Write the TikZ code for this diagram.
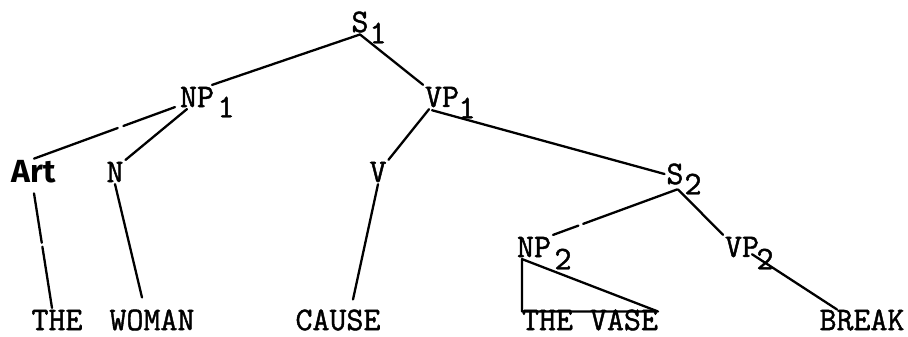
\documentclass[tikz,border=0pt]{standalone}
\usepackage{fontspec}
\newfontfamily\handfont{Fira Sans}
\newfontfamily\typew{Latin Modern Mono}[FakeBold=1.3]
\begin{document}
\begin{tikzpicture}[x=1pt,y=-1pt,
  lab/.style={font=\fontsize{33}{36}\selectfont\typew, inner sep=0pt, outer sep=2pt},
  hand/.style={font=\fontsize{32}{35}\selectfont\handfont\bfseries, inner sep=0pt, outer sep=2pt},
  edge/.style={line width=2.3pt, line cap=round}]
\useasboundingbox (0,0) rectangle (908,337);
% labels
\node[lab] (s1) at (360,22) {S};
\node[lab] (s1sub) at (378,33) {1};
\node[lab] (np1) at (197,97) {NP};
\node[lab] (np1sub) at (226,107) {1};
\node[lab] (vp1) at (442,97) {VP};
\node[lab] (vp1sub) at (467,108) {1};
\node[hand] (art) at (34,172) {Art};
\node[lab] (n) at (115,172) {N};
\node[lab] (v) at (378,172) {V};
\node[lab] (s2) at (675,174) {S};
\node[lab] (s2sub) at (693,184) {2};
\node[lab] (np2) at (534,247) {NP};
\node[lab] (np2sub) at (563,259) {2};
\node[lab] (vp2) at (742,247) {VP};
\node[lab] (vp2sub) at (765,259) {2};
\node[lab] (the) at (57,320) {THE};
\node[lab] (woman) at (152,320) {WOMAN};
\node[lab] (cause) at (338,320) {CAUSE};
\node[lab, outer sep=0pt] (vase) at (590,320) {THE VASE};
\node[lab] (break) at (862,320) {BREAK};
% connectors
\draw[edge] (s1.south) -- ([xshift=-4pt]np1.north east);
\draw[edge] (s1.south) -- (vp1.north west);
\draw[edge, dash pattern=on 55pt off 6pt on 200pt] ([xshift=-3pt,yshift=2pt]np1.south west) -- (art.north);
\draw[edge] ([xshift=-10pt]np1.south) -- (n.north east);
\draw[edge] ([xshift=6pt]vp1.south west) -- (v.north east);
\draw[edge] ([xshift=9pt,yshift=-1pt]vp1.south west) -- (s2.west);
\draw[edge, dash pattern=on 50pt off 4pt on 200pt] ([yshift=-8pt]art.south) -- ([xshift=-5pt]the.north);
\draw[edge] (n.south) -- ([xshift=-10pt,yshift=10pt]woman.north);
\draw[edge] (v.south) -- ([xshift=15pt,yshift=8pt]cause.north);
\draw[edge, dash pattern=on 100pt off 5pt on 200pt] ([xshift=2pt,yshift=-3pt]s2.south) -- (np2.north east);
\draw[edge] ([xshift=3pt,yshift=-3pt]s2.south) -- (vp2.north west);
\draw[edge] ([xshift=10pt,yshift=5pt]vp2.south) -- ([xshift=-25pt,yshift=-2pt]break.north);
\draw[edge, line join=round] ([xshift=7pt]np2.south west) -- ([yshift=-2pt]vase.north west) -- ([yshift=-2pt]vase.north east) -- cycle;
\end{tikzpicture}
\end{document}
